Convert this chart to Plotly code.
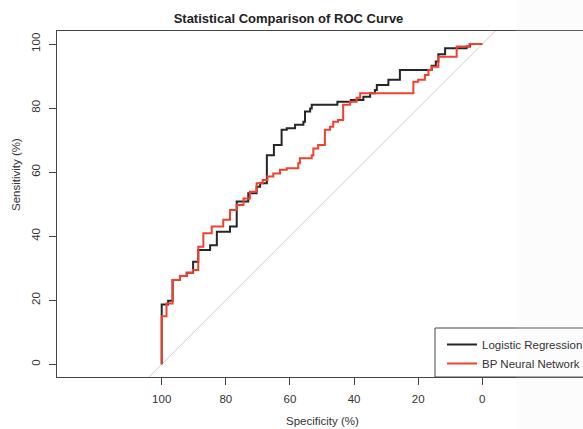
import numpy as np
import plotly.graph_objects as go

# ROC curve data (specificity %, sensitivity %) as step vertices
lr_spec = [100, 100, 98.0, 96.6, 94.3, 92.2, 90.2, 88.6, 84.9, 82.8, 78.7, 76.6, 73.0, 70.4,
           69.3, 67.2, 65.0, 62.6, 61.0, 58.4, 55.8, 55.3, 53.7, 53.2, 45.2, 41.0, 37.1, 35.0,
           33.5, 32.9, 29.3, 25.7, 15.8, 14.5, 13.7, 11.6, 4.9, 3.8, 0]
lr_sens = [0, 18.7, 19.8, 26.3, 27.6, 28.6, 32.0, 35.7, 37.2, 41.4, 43.0, 50.8, 53.4, 55.4,
           56.5, 65.3, 68.5, 73.2, 73.7, 74.8, 75.7, 78.9, 79.9, 81.0, 82.0, 82.5, 83.5, 84.6,
           85.6, 87.2, 88.8, 91.9, 93.2, 94.5, 96.8, 98.7, 99.2, 100, 100]

bp_spec = [100, 100, 98.5, 96.6, 94.3, 92.2, 90.3, 88.6, 87.0, 84.4, 80.8, 78.7, 76.6, 74.5,
           72.5, 70.4, 68.5, 67.0, 65.2, 63.1, 61.0, 57.4, 56.9, 53.2, 52.7, 51.2, 49.1, 47.5,
           46.5, 45.0, 43.4, 41.3, 39.2, 38.1, 21.5, 20.0, 17.9, 16.8, 15.8, 13.7, 8.0, 4.0, 0]
bp_sens = [0, 15.0, 19.0, 26.3, 27.6, 28.6, 29.4, 36.7, 40.9, 43.0, 45.1, 48.2, 49.7, 51.8,
           53.9, 56.5, 57.5, 58.6, 59.6, 60.7, 61.2, 62.8, 64.3, 65.3, 67.4, 68.5, 73.2, 74.2,
           75.7, 76.3, 81.0, 82.0, 83.2, 84.6, 88.2, 88.8, 90.3, 91.9, 92.9, 96.0, 99.2, 100, 100]

series_names = ["Logistic Regression", "BP Neural Network"]
series_colors = ["#262626", "#f2402f"]
tick_vals = [0, 20, 40, 60, 80, 100]

W, H = 583, 429
ML, MR, MT, MB = 57, 0, 31, 52
PW, PH = W - ML - MR, H - MT - MB

x_range = [132.66, -31.41]
y_range = [-3.97, 104.06]

def px_to_paper_x(px):
    return (px - ML) / PW

def px_to_paper_y(py):
    return (H - MB - py) / PH

FONT = "Liberation Sans, Arial, sans-serif"
AX = "#444444"

fig = go.Figure()

# chance diagonal across the whole plot
diag_x = np.array([200.0, -100.0])
diag_y = 100 - diag_x
fig.add_trace(go.Scatter(x=diag_x, y=diag_y, mode="lines",
                         line=dict(color="#d0d0d0", width=1), showlegend=False,
                         hoverinfo="skip"))

for sx, sy, name, col in [(lr_spec, lr_sens, series_names[0], series_colors[0]),
                          (bp_spec, bp_sens, series_names[1], series_colors[1])]:
    fig.add_trace(go.Scatter(x=sx, y=sy, mode="lines", name=name,
                             line=dict(color=col, width=2, shape="hv")))

axis_common = dict(showgrid=False, zeroline=False, showline=True, linecolor=AX, linewidth=1,
                   ticks="outside", ticklen=7, tickcolor=AX, tickwidth=1,
                   tickvals=tick_vals, tickfont=dict(family=FONT, size=11.5, color="#333333"))

fig.update_layout(
    width=W, height=H,
    margin=dict(l=ML, r=MR, t=MT, b=MB, autoexpand=False),
    paper_bgcolor="white", plot_bgcolor="white",
    font=dict(family=FONT, color="#333333"),
    title=dict(text="Statistical Comparison of ROC Curve", x=288.5 / W, xanchor="center",
               y=1 - 18 / H, yanchor="middle",
               font=dict(family=FONT, size=13, color="#222222", weight="bold")),
    xaxis=dict(range=x_range, mirror=True, ticklabelstandoff=4, **axis_common),
    yaxis=dict(range=y_range, mirror=False, tickangle=-90, ticklabelstandoff=4, **axis_common),
    showlegend=True,
    legend=dict(x=px_to_paper_x(442), xanchor="left", y=px_to_paper_y(330), yanchor="top",
                bgcolor="rgba(0,0,0,0)", borderwidth=0, tracegroupgap=0,
                font=dict(family=FONT, size=11.5, color="#333333")),
    annotations=[
        dict(text="Specificity (%)", xref="paper", yref="paper", x=px_to_paper_x(322),
             y=px_to_paper_y(421), xanchor="center", yanchor="middle", showarrow=False,
             font=dict(family=FONT, size=11.5, color="#333333")),
        dict(text="Sensitivity (%)", xref="paper", yref="paper", x=px_to_paper_x(16),
             y=px_to_paper_y(175), xanchor="center", yanchor="middle", showarrow=False,
             textangle=-90, font=dict(family=FONT, size=11.5, color="#333333")),
    ],
    shapes=[
        dict(type="rect", xref="paper", yref="paper", x0=px_to_paper_x(435), x1=px_to_paper_x(600),
             y0=0, y1=px_to_paper_y(328), line=dict(color=AX, width=1), fillcolor="rgba(0,0,0,0)",
             layer="above"),
        dict(type="rect", xref="paper", yref="paper", x0=px_to_paper_x(516), x1=px_to_paper_x(600),
             y0=px_to_paper_y(440), y1=px_to_paper_y(-10), line=dict(width=0),
             fillcolor="rgba(235,235,235,0.15)", layer="above"),
    ],
)

fig.write_html("out.html", config={"displayModeBar": False},
               post_script="document.body.style.margin='0';document.body.style.overflow='hidden';")
